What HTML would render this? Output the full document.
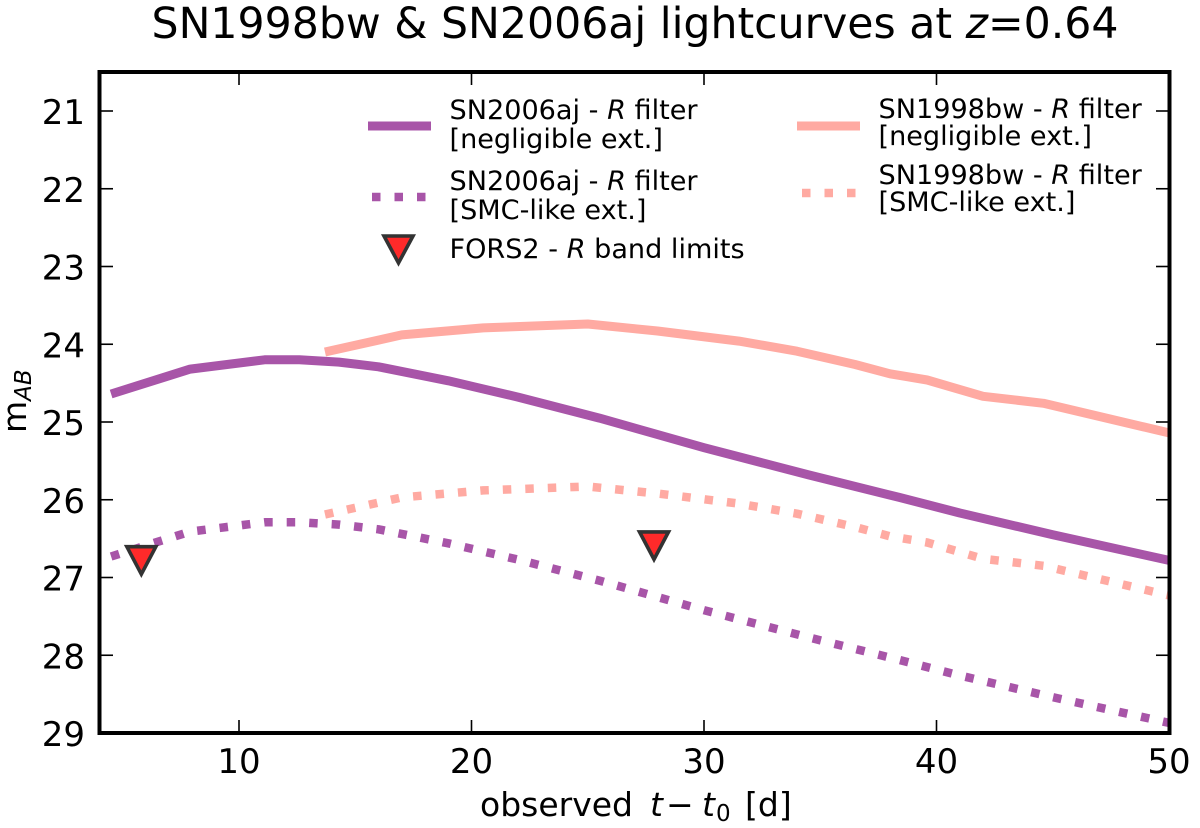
<!DOCTYPE html>
<html>
<head>
<meta charset="utf-8">
<title>SN1998bw &amp; SN2006aj lightcurves</title>
<style>
html,body{margin:0;padding:0;background:#fff;}
svg{display:block;filter:blur(0.35px);}
text{font-family:"DejaVu Sans","Liberation Sans",sans-serif;fill:#000;}
</style>
</head>
<body>
<svg id="chart" width="1200" height="828" viewBox="0 0 1200 828" xmlns="http://www.w3.org/2000/svg">
  <rect width="1200" height="828" fill="#fff"/>
  <text x="635" y="38" text-anchor="middle" font-size="42.6">SN1998bw &amp; SN2006aj lightcurves at <tspan font-style="italic">z</tspan>=0.64</text>
  <g id="series"></g>
  <g id="ticks"></g>
  <rect x="99.5" y="72" width="1070" height="661" fill="none" stroke="#000" stroke-width="4"/>
  <text y="816" font-size="33"><tspan x="480">observed</tspan><tspan x="650" font-style="italic">t</tspan><tspan x="666">−</tspan><tspan x="702" font-style="italic">t</tspan><tspan x="716" font-size="23" dy="5">0</tspan><tspan x="745" dy="-5">[d]</tspan></text>
  <text transform="translate(26,433) rotate(-90)" font-size="33">m<tspan font-size="23" font-style="italic" dy="5">AB</tspan></text>

  <g font-size="27.1">
    <g>
      <line x1="368" y1="126" x2="431" y2="126" stroke="#a855a8" stroke-width="9"/>
      <text x="449.5" y="119">SN2006aj - <tspan font-style="italic">R</tspan> filter</text>
      <text x="449.5" y="148">[negligible ext.]</text>
    </g>
    <g>
      <line x1="372" y1="197" x2="426" y2="197" stroke="#a855a8" stroke-width="8.5" stroke-dasharray="8.5 14"/>
      <text x="449.5" y="190">SN2006aj - <tspan font-style="italic">R</tspan> filter</text>
      <text x="449.5" y="219">[SMC-like ext.]</text>
    </g>
    <g>
      <polygon points="384,236 413,236 398.5,263" fill="#ff2a2a" stroke="#333" stroke-width="3.6" stroke-linejoin="miter"/>
      <text x="449.5" y="258">FORS2 - <tspan font-style="italic">R</tspan> band limits</text>
    </g>
    <g>
      <line x1="797" y1="126" x2="860" y2="126" stroke="#ffaaa2" stroke-width="9"/>
      <text x="878.5" y="118">SN1998bw - <tspan font-style="italic">R</tspan> filter</text>
      <text x="878.5" y="145">[negligible ext.]</text>
    </g>
    <g>
      <line x1="802" y1="193" x2="856" y2="193" stroke="#ffaaa2" stroke-width="8.5" stroke-dasharray="8.5 14"/>
      <text x="878.5" y="184">SN1998bw - <tspan font-style="italic">R</tspan> filter</text>
      <text x="878.5" y="211">[SMC-like ext.]</text>
    </g>
  </g>
</svg>
<script>
var xTickLabels = [10, 20, 30, 40, 50];
var yTickLabels = [21, 22, 23, 24, 25, 26, 27, 28, 29];

var aj06Days = [4.5, 7.9, 11.1, 12.6, 14.3, 16, 19, 22, 25.5, 30, 34.5, 38.4, 41, 45, 50];
var aj06Negligible = [24.64, 24.32, 24.2, 24.2, 24.23, 24.29, 24.47, 24.68, 24.95, 25.33, 25.68, 25.97, 26.17, 26.45, 26.78];
var aj06Smc = [26.73, 26.41, 26.29, 26.29, 26.32, 26.38, 26.56, 26.77, 27.04, 27.42, 27.77, 28.06, 28.26, 28.54, 28.87];

var bw98Days = [13.7, 17, 20.5, 25, 28, 31.5, 34, 36.5, 38, 39.6, 42, 44.6, 50];
var bw98Negligible = [24.1, 23.88, 23.79, 23.74, 23.83, 23.96, 24.09, 24.26, 24.38, 24.46, 24.67, 24.76, 25.14];
var bw98Smc = [26.19, 25.97, 25.88, 25.83, 25.92, 26.05, 26.18, 26.35, 26.47, 26.55, 26.76, 26.85, 27.23];

var limitDays = [5.8, 27.85];
var limitMags = [26.79, 26.6];

var NS = 'http://www.w3.org/2000/svg';
function xScale(d) { return 99.5 + (d - 4) * 23.25; }
function yScale(m) { return 733 - (29 - m) * 77.75; }

function pathFrom(xs, ys) {
  var s = '';
  for (var i = 0; i < xs.length; i++) {
    s += (i ? 'L' : 'M') + xScale(xs[i]).toFixed(1) + ' ' + yScale(ys[i]).toFixed(1);
  }
  return s;
}

var clip = document.createElementNS(NS, 'clipPath');
clip.setAttribute('id', 'plot-clip');
var clipRect = document.createElementNS(NS, 'rect');
clipRect.setAttribute('x', '99.5');
clipRect.setAttribute('y', '72');
clipRect.setAttribute('width', '1070');
clipRect.setAttribute('height', '661');
clip.appendChild(clipRect);
document.getElementById('chart').appendChild(clip);

var seriesLayer = document.getElementById('series');
seriesLayer.setAttribute('clip-path', 'url(#plot-clip)');

function addLine(name, xs, ys, color, dotted) {
  var p = document.createElementNS(NS, 'path');
  
  
  p.setAttribute('d', pathFrom(xs, ys));
  p.setAttribute('fill', 'none');
  p.setAttribute('stroke', color);
  p.setAttribute('stroke-width', dotted ? '8.5' : '9');
  p.setAttribute('stroke-linejoin', 'round');
  if (dotted) p.setAttribute('stroke-dasharray', '8.5 14');
  seriesLayer.appendChild(p);
}
addLine('sn1998bw-negligible-line', bw98Days, bw98Negligible, '#ffaaa2', false);
addLine('sn1998bw-smc-line', bw98Days, bw98Smc, '#ffaaa2', true);
addLine('sn2006aj-negligible-line', aj06Days, aj06Negligible, '#a855a8', false);
addLine('sn2006aj-smc-line', aj06Days, aj06Smc, '#a855a8', true);

limitDays.forEach(function (d, i) {
  var cx = xScale(d), cy = yScale(limitMags[i]);
  var t = document.createElementNS(NS, 'polygon');
  
  
  t.setAttribute('points', (cx - 14.5) + ',' + (cy - 14.5) + ' ' + (cx + 14.5) + ',' + (cy - 14.5) + ' ' + cx + ',' + (cy + 13));
  t.setAttribute('fill', '#ff2a2a');
  t.setAttribute('stroke', '#333');
  t.setAttribute('stroke-width', '3.6');
  seriesLayer.appendChild(t);
});

var tickLayer = document.getElementById('ticks');
function addTick(x1, y1, x2, y2) {
  var l = document.createElementNS(NS, 'line');
  
  
  l.setAttribute('x1', x1);
  l.setAttribute('y1', y1);
  l.setAttribute('x2', x2);
  l.setAttribute('y2', y2);
  l.setAttribute('stroke', '#000');
  l.setAttribute('stroke-width', '1.6');
  tickLayer.appendChild(l);
}
function addLabel(name, x, y, anchor, str) {
  var t = document.createElementNS(NS, 'text');
  
  
  t.setAttribute('x', x);
  t.setAttribute('y', y);
  t.setAttribute('text-anchor', anchor);
  t.setAttribute('font-size', '34');
  t.textContent = str;
  tickLayer.appendChild(t);
}
xTickLabels.forEach(function (v) {
  var x = xScale(v);
  addTick(x, 733, x, 720);
  addTick(x, 72, x, 85);
  addLabel('x-tick-label', x, 773, 'middle', String(v));
});
yTickLabels.forEach(function (v) {
  var y = yScale(v);
  addTick(99.5, y, 113, y);
  addTick(1169.5, y, 1156, y);
  addLabel('y-tick-label', 85, y + 13, 'end', String(v));
});
</script>
</body>
</html>
